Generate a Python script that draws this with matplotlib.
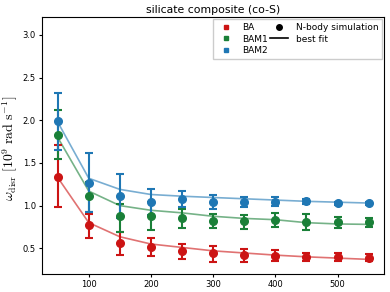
import matplotlib
matplotlib.use("Agg")
import matplotlib.pyplot as plt
from matplotlib.lines import Line2D
import numpy as np

x = [50, 100, 150, 200, 250, 300, 350, 400, 450, 500, 550]

ba_pts = [1.34, 0.77, 0.56, 0.52, 0.465, 0.44, 0.42, 0.41, 0.40, 0.395, 0.39]
ba_lo = [0.98, 0.62, 0.42, 0.41, 0.37, 0.345, 0.345, 0.35, 0.35, 0.35, 0.35]
ba_hi = [1.71, 0.90, 0.69, 0.62, 0.555, 0.53, 0.49, 0.48, 0.45, 0.44, 0.43]
ba_fit = [1.33, 0.80, 0.635, 0.55, 0.51, 0.47, 0.445, 0.42, 0.40, 0.385, 0.37]

bam1_pts = [1.83, 1.11, 0.875, 0.875, 0.85, 0.825, 0.82, 0.83, 0.805, 0.81, 0.805]
bam1_lo = [1.55, 0.93, 0.69, 0.72, 0.74, 0.74, 0.73, 0.75, 0.71, 0.74, 0.755]
bam1_hi = [2.12, 1.28, 1.02, 1.04, 0.965, 0.90, 0.89, 0.91, 0.90, 0.87, 0.855]
bam1_fit = [1.80, 1.17, 1.00, 0.945, 0.915, 0.875, 0.85, 0.835, 0.80, 0.785, 0.78]

bam2_pts = [1.99, 1.27, 1.11, 1.047, 1.08, 1.047, 1.043, 1.043, 1.05, 1.027, 1.03]
bam2_lo = [1.65, 0.92, 0.85, 0.89, 0.985, 0.965, 0.985, 0.995, 1.015, 1.005, 1.008]
bam2_hi = [2.32, 1.62, 1.37, 1.20, 1.17, 1.13, 1.10, 1.105, 1.075, 1.043, 1.047]
bam2_fit = [1.98, 1.32, 1.19, 1.13, 1.11, 1.095, 1.08, 1.065, 1.05, 1.04, 1.03]

labels = ["BA", "BAM1", "BAM2"]
colors = ["#cc1414", "#1a8038", "#1f77b4"]

plt.rcParams["mathtext.fontset"] = "cm"
fig = plt.figure(figsize=(3.9, 2.92), dpi=100)
ax = fig.add_axes([0.108, 0.062, 0.877, 0.880])

series = [
    (ba_pts, ba_lo, ba_hi, ba_fit),
    (bam1_pts, bam1_lo, bam1_hi, bam1_fit),
    (bam2_pts, bam2_lo, bam2_hi, bam2_fit),
]
for (pts, lo, hi, fit), c in zip(series, colors):
    pts = np.array(pts); lo = np.array(lo); hi = np.array(hi)
    ax.plot(x, fit, color=c, lw=1.2, alpha=0.6, zorder=2)
    ax.errorbar(x, pts, yerr=[pts - lo, hi - pts], fmt="o", color=c,
                ms=5.5, capsize=3, elinewidth=1.5, capthick=1.5, zorder=3)

ax.set_xlim(25, 575)
ax.set_ylim(0.2, 3.21)
ax.set_xticks([100, 200, 300, 400, 500])
ax.set_yticks([0.5, 1.0, 1.5, 2.0, 2.5, 3.0])
ax.tick_params(labelsize=6, length=2.5, pad=2)
ax.set_title("silicate composite (co-S)", fontsize=7.8, pad=3)
ax.set_ylabel(r"$\omega_{\rm disr}\ [10^9\ {\rm rad\ s^{-1}}]$", fontsize=10)
ax.yaxis.set_label_coords(-0.066, 0.49)

handles = [Line2D([], [], ls="none", marker="s", ms=3.5, color=c) for c in colors]
handles += [Line2D([], [], ls="none", marker="o", ms=4.0, color="k"),
            Line2D([], [], color="k", lw=1.2)]
leg_labels = labels + ["N-body simulation", "best fit"]
ax.legend(handles, leg_labels, loc="upper right", ncol=2, fontsize=6.5,
          handlelength=2.0, columnspacing=0.3, borderaxespad=0.25,
          fancybox=False, framealpha=1.0, edgecolor="#cccccc",
          handletextpad=0.8, labelspacing=0.3)

fig.savefig("out.png", dpi=100)
